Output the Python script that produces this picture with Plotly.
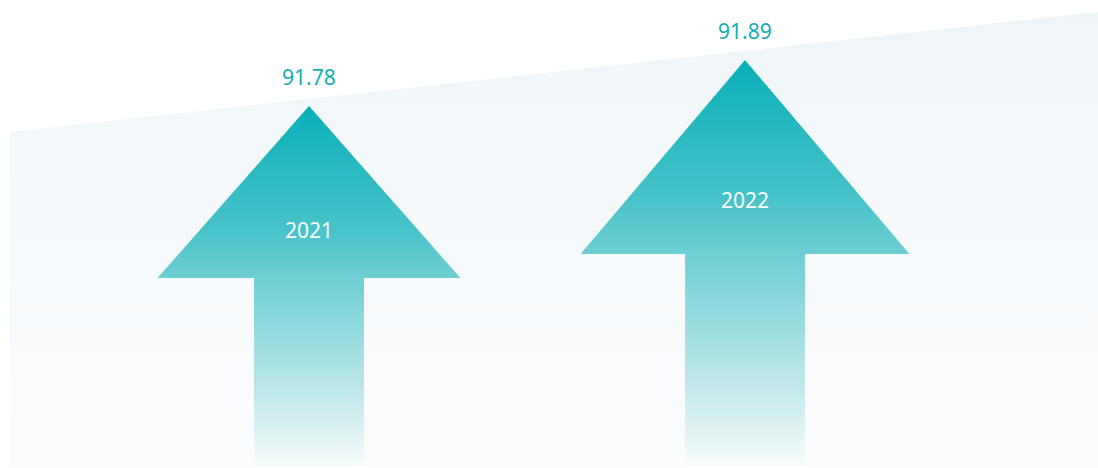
import plotly.graph_objects as go

# ---- data ----
YEARS = ["2021", "2022"]
VALUES = [91.78, 91.89]

# ---- styling / geometry constants ----
W, H = 1098, 468
Y_MAX = 92.0335
Y_MIN = 90.9144
ARROW_BASE = 90.919
X_RANGE = [-0.7087, 1.8096]
HEAD_BASE_FRAC = 0.522      # head base position as fraction of arrow height (from bottom)
HEAD_HALF0 = 0.3475
SHAFT_HALF0 = 0.1261
LABEL_FRAC = 0.345          # year label position, fraction of height below tip
TEAL = "#13adb5"
FONT = "Noto Sans"

arrow_scale = [
    [0.0, "#f8fcfc"],
    [0.12, "#d6f0f1"],
    [0.30, "#a6e0e3"],
    [0.52, "#6ecfd4"],
    [0.66, "#47c3c9"],
    [1.0, "#0aafb8"],
]
bg_scale = [[0.0, "#fbfcfe"], [0.6, "#f5f9fb"], [1.0, "#eef5f8"]]

fig = go.Figure()

# background band (pixel-like coordinates on x/y)
bg_x = [10, 1098, 1098, 10, 10]
bg_y = [H - 132, H - 12, H - 466, H - 466, H - 132]
fig.add_trace(go.Scatter(
    x=bg_x, y=bg_y, mode="lines", fill="toself",
    line=dict(width=0, color="rgba(0,0,0,0)"),
    fillgradient=dict(type="vertical", colorscale=bg_scale),
    hoverinfo="skip", showlegend=False, xaxis="x", yaxis="y",
))

h0 = VALUES[0] - ARROW_BASE
annotations = []
for i, (yr, v) in enumerate(zip(YEARS, VALUES)):
    h = v - ARROW_BASE
    r = h / h0
    hh = HEAD_HALF0 * r ** 0.68
    sh = SHAFT_HALF0 * r ** 0.72
    hb = ARROW_BASE + HEAD_BASE_FRAC * h
    xs = [i, i + hh, i + sh, i + sh, i - sh, i - sh, i - hh, i]
    ys = [v, hb, hb, ARROW_BASE, ARROW_BASE, hb, hb, v]
    fig.add_trace(go.Scatter(
        x=xs, y=ys, mode="lines", fill="toself",
        line=dict(width=0, color="rgba(0,0,0,0)"),
        fillgradient=dict(type="vertical", colorscale=arrow_scale),
        hoverinfo="skip", showlegend=False, xaxis="x2", yaxis="y2",
    ))
    annotations.append(dict(
        x=i, y=v, xref="x2", yref="y2", text=f"{v:.2f}", showarrow=False,
        yanchor="middle", yshift=29, font=dict(family=FONT, size=21, color=TEAL),
    ))
    annotations.append(dict(
        x=i, y=v - LABEL_FRAC * h, xref="x2", yref="y2", text=yr, showarrow=False,
        yanchor="middle", font=dict(family=FONT, size=21, color="#ffffff"),
    ))

ax_common = dict(visible=False, showgrid=False, zeroline=False, fixedrange=True)
fig.update_layout(
    width=W, height=H,
    margin=dict(l=0, r=0, t=0, b=0),
    paper_bgcolor="#ffffff", plot_bgcolor="rgba(0,0,0,0)",
    xaxis=dict(range=[0, W], **ax_common),
    yaxis=dict(range=[0, H], **ax_common),
    xaxis2=dict(range=X_RANGE, overlaying="x", **ax_common),
    yaxis2=dict(range=[Y_MIN, Y_MAX], overlaying="y", **ax_common),
    annotations=annotations,
    hovermode=False,
    showlegend=False,
)

fig.write_html(
    "out.html",
    config={"displayModeBar": False},
    post_script="document.body.style.margin='0';document.body.style.overflow='hidden';",
)
